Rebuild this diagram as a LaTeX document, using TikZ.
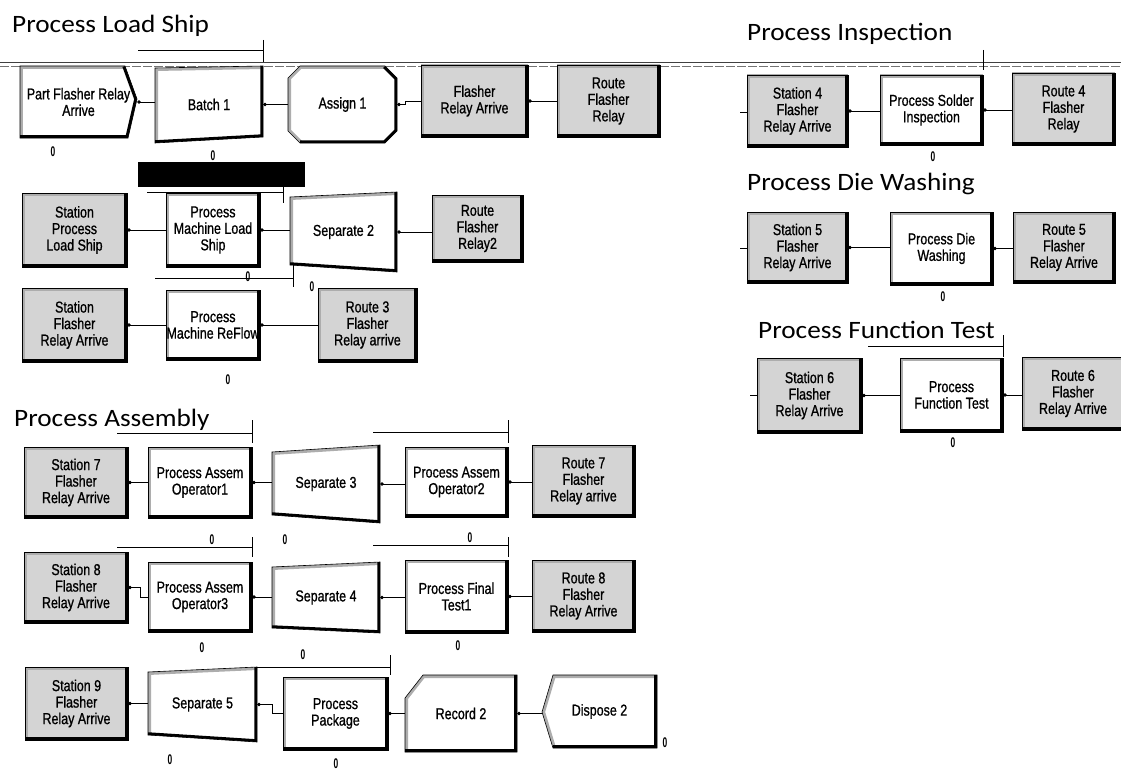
\documentclass[tikz,border=0pt]{standalone}
\usepackage{fontspec}
\setmainfont{Liberation Sans}
\newfontfamily\titlefont[FakeStretch=1.09]{Carlito}
\newfontfamily\modfont[FakeStretch=0.79, FakeBold=0.9]{Liberation Sans}
\newfontfamily\zerofont[FakeStretch=0.6]{Liberation Sans}
\usetikzlibrary{arrows.meta}

\tikzset{
  title/.style={anchor=base west, inner sep=0pt, font=\titlefont\fontsize{25}{30}\selectfont},
  modtext/.style={align=center, inner sep=0pt, font=\modfont\fontsize{15.8}{16.5}\selectfont},
  zero/.style={inner sep=0pt, font=\zerofont\bfseries\fontsize{14}{14}\selectfont},
  link/.style={line width=0.8pt, arrows={Circle[length=3.5pt]-}},
  bar/.style={line width=1pt},
  outline/.style={line width=0.6pt},
  lightedge/.style={line width=6pt, black!32},
  darkedge/.style={line width=5.5pt, black},
  stip/.style={fill=black!17},
  plain/.style={fill=white},
}

% text node of a module, sized to its box (x1,y1)-(x2,y2)
\newcommand\modnode[6]{%
  \pgfmathsetmacro\modcx{(#2+#4)/2}%
  \pgfmathsetmacro\modcy{(#3+#5)/2}%
  \pgfmathsetmacro\modw{#4-#2}%
  \pgfmathsetmacro\modh{#5-#3}%
  \node[modtext, minimum width=\modw pt, minimum height=\modh pt] (#1) at (\modcx,\modcy) {#6};%
}
% rectangular module with bevelled edges
\newcommand\rmod[7]{%
  \begin{scope}
    \clip (#3,#4) rectangle (#5,#6);
    \fill[#2] (#3,#4) rectangle (#5,#6);
    \draw[lightedge] (#3,#6) -- (#3,#4) -- (#5,#4);
    \draw[darkedge] (#5,#4) -- (#5,#6) -- (#3,#6);
  \end{scope}
  \draw[outline] (#3,#4) rectangle (#5,#6);
  \modnode{#1}{#3}{#4}{#5}{#6}{#7}%
}
% module of any outline: fill, outline, light edges, dark edges
\newcommand\shapemod[4]{%
  \begin{scope}
    \clip #2;
    \fill[#1] #2;
    \draw[lightedge] #3;
    \draw[darkedge] #4;
  \end{scope}
  \draw[outline] #2;
}

\begin{document}
\begin{tikzpicture}[x=1pt, y=-1pt]
\useasboundingbox (0,0) rectangle (1121,773);

% header rule
\draw[line width=1.4pt, black!75] (0,62.5) -- (1121,62.5);
\draw[line width=0.7pt, black!55, dash pattern=on 9pt off 2pt] (0,66) -- (1121,66);

% ---------------- Process Load Ship ----------------
\node[title] (t1) at (12,33) {Process Load Ship};

\shapemod{plain}{(20,66) -- (125,66) -- (137,99) -- (128,138) -- (20,138) -- cycle}
  {(20,138) -- (20,66) -- (125,66)}{(125,66) -- (137,99) -- (128,138) -- (20,138)}
\modnode{part}{20}{66}{137}{138}{Part Flasher Relay\\Arrive}

\shapemod{plain}{(155,68) -- (263,66) -- (263,137) -- (155,143) -- cycle}
  {(155,143) -- (155,68) -- (263,66)}{(263,66) -- (263,137) -- (155,143)}
\modnode{batch}{155}{66}{263}{143}{Batch 1}

\shapemod{plain}{(300,66) -- (385,66) -- (397,78) -- (397,131) -- (385,143) -- (300,143) -- (288,131) -- (288,78) -- cycle}
  {(300,143) -- (288,131) -- (288,78) -- (300,66) -- (385,66)}{(385,66) -- (397,78) -- (397,131) -- (385,143) -- (300,143)}
\modnode{assign}{288}{66}{397}{143}{Assign 1}

\rmod{fra}{stip}{421}{65}{528}{137}{Flasher\\Relay Arrive}
\rmod{rfr}{stip}{557}{65}{660}{137}{Route\\Flasher\\Relay}

\draw[link] (part.east) -- (part.east -| batch.west);
\draw[link] (batch.east) -- (assign.west);
\draw[link] (assign.east) -- ++(8,0) |- (fra.west);
\draw[link] (fra.east) -- (rfr.west);

\draw[bar] (138,51) -- (263,51) (263,40) -- (263,62);
\node[zero] (z1) at (53,152) {0};
\node[zero] (z2) at (213,156) {0};

\fill (138,162) rectangle (305,187);

\rmod{spls}{stip}{22}{193}{127}{267}{Station\\Process\\Load Ship}
\rmod{pmls}{plain}{166}{193}{260}{267}{Process\\Machine Load\\Ship}
\shapemod{plain}{(290,197) -- (397,192) -- (397,272) -- (290,265) -- cycle}
  {(290,265) -- (290,197) -- (397,192)}{(397,192) -- (397,272) -- (290,265)}
\modnode{sep2}{290}{192}{397}{272}{Separate 2}
\rmod{rfr2}{stip}{432}{195}{523}{262}{Route\\Flasher\\Relay2}

\draw[link] (spls.east) -- (pmls.west);
\draw[link] (pmls.east) -- (pmls.east -| sep2.west);
\draw[link] (sep2.east) -- (rfr2.west |- sep2.east);

\draw[bar] (147,192) -- (283,192) (283,187) -- (283,203);
\draw[bar] (155,278) -- (293,278) (293,263) -- (293,287);
\node[zero] (z3) at (248,277) {0};
\node[zero] (z4) at (312,287) {0};

\rmod{sfra}{stip}{22}{288}{127}{362}{Station\\Flasher\\Relay Arrive}
\rmod{pmrf}{plain}{166}{290}{260}{360}{Process\\Machine ReFlow}
\rmod{r3}{stip}{318}{288}{417}{362}{Route 3\\Flasher\\Relay arrive}

\draw[link] (sfra.east) -- (pmrf.west);
\draw[link] (pmrf.east) -- (r3.west);
\node[zero] (z5) at (228,380) {0};

% ---------------- Process Inspection ----------------
\node[title] (t2) at (747,41) {Process Inspection};
\draw[bar] (983,50) -- (983,70);
\rmod{st4}{stip}{747}{75}{848}{147}{Station 4\\Flasher\\Relay Arrive}
\rmod{psi}{plain}{880}{75}{983}{145}{Process Solder\\Inspection}
\rmod{r4}{stip}{1012}{73}{1115}{145}{Route 4\\Flasher\\Relay}
\coordinate (s4) at (740,112);
\draw[line width=0.8pt] (s4) -- (s4 -| st4.west);
\draw[link] (st4.east) -- (st4.east -| psi.west);
\draw[link] (psi.east) -- (psi.east -| r4.west);
\node[zero] (z6) at (933,157) {0};

% ---------------- Process Die Washing ----------------
\node[title] (t3) at (747,190) {Process Die Washing};
\rmod{st5}{stip}{747}{212}{848}{283}{Station 5\\Flasher\\Relay Arrive}
\rmod{pdw}{plain}{890}{212}{993}{285}{Process Die\\Washing}
\rmod{r5}{stip}{1013}{212}{1115}{283}{Route 5\\Flasher\\Relay Arrive}
\coordinate (s5) at (740,248);
\draw[line width=0.8pt] (s5) -- (s5 -| st5.west);
\draw[link] (st5.east) -- (st5.east -| pdw.west);
\draw[link] (pdw.east) -- (pdw.east -| r5.west);
\node[zero] (z7) at (943,297) {0};

% ---------------- Process Function Test ----------------
\node[title] (t4) at (758,338) {Process Function Test};
\draw[bar] (868,346) -- (1003,346) (1003,335) -- (1003,357);
\rmod{st6}{stip}{757}{358}{862}{433}{Station 6\\Flasher\\Relay Arrive}
\rmod{pft}{plain}{900}{358}{1003}{432}{Process\\Function Test}
\rmod{r6}{stip}{1022}{357}{1124}{430}{Route 6\\Flasher\\Relay Arrive}
\coordinate (s6) at (750,395);
\draw[line width=0.8pt] (s6) -- (s6 -| st6.west);
\draw[link] (st6.east) -- (st6.east -| pft.west);
\draw[link] (pft.east) -- (pft.east -| r6.west);
\node[zero] (z8) at (953,443) {0};

% ---------------- Process Assembly ----------------
\node[title] (t5) at (14,426) {Process Assembly};
\draw[bar] (117,433) -- (252,433) (252,420) -- (252,443);
\draw[bar] (373,432) -- (508,432) (508,420) -- (508,443);

\rmod{st7}{stip}{24}{447}{128}{518}{Station 7\\Flasher\\Relay Arrive}
\rmod{op1}{plain}{148}{447}{252}{518}{Process Assem\\Operator1}
\shapemod{plain}{(272,452) -- (380,445) -- (380,523) -- (272,515) -- cycle}
  {(272,515) -- (272,452) -- (380,445)}{(380,445) -- (380,523) -- (272,515)}
\modnode{sep3}{272}{445}{380}{523}{Separate 3}
\rmod{op2}{plain}{405}{447}{508}{517}{Process Assem\\Operator2}
\rmod{r7}{stip}{532}{445}{635}{517}{Route 7\\Flasher\\Relay arrive}

\draw[link] (st7.east) -- (st7.east -| op1.west);
\draw[link] (op1.east) -- (op1.east -| sep3.west);
\draw[link] (sep3.east) -- (sep3.east -| op2.west);
\draw[link] (op2.east) -- (op2.east -| r7.west);

\node[zero] (z9) at (212,540) {0};
\node[zero] (z10) at (285,540) {0};
\node[zero] (z11) at (470,538) {0};
\draw[bar] (117,547) -- (252,547) (252,537) -- (252,557);
\draw[bar] (373,545) -- (508,545) (508,537) -- (508,557);

\rmod{st8}{stip}{24}{552}{128}{623}{Station 8\\Flasher\\Relay Arrive}
\rmod{op3}{plain}{148}{562}{252}{632}{Process Assem\\Operator3}
\shapemod{plain}{(272,567) -- (380,562) -- (380,633) -- (272,628) -- cycle}
  {(272,628) -- (272,567) -- (380,562)}{(380,562) -- (380,633) -- (272,628)}
\modnode{sep4}{272}{562}{380}{633}{Separate 4}
\rmod{pft1}{plain}{405}{560}{508}{633}{Process Final\\Test1}
\rmod{r8}{stip}{532}{560}{635}{632}{Route 8\\Flasher\\Relay Arrive}

\draw[link] (st8.east) -- ++(12,0) |- (op3.west);
\draw[link] (op3.east) -- (op3.east -| sep4.west);
\draw[link] (sep4.east) -- (sep4.east -| pft1.west);
\draw[link] (pft1.east) -- (pft1.east -| r8.west);

\node[zero] (z12) at (202,648) {0};
\node[zero] (z13) at (303,655) {0};
\node[zero] (z14) at (458,646) {0};

\rmod{st9}{stip}{25}{667}{128}{740}{Station 9\\Flasher\\Relay Arrive}
\shapemod{plain}{(148,672) -- (257,667) -- (257,742) -- (148,735) -- cycle}
  {(148,735) -- (148,672) -- (257,667)}{(257,667) -- (257,742) -- (148,735)}
\modnode{sep5}{148}{667}{257}{742}{Separate 5}
\draw[bar] (257,667) -- (390,667) (390,655) -- (390,675);
\rmod{pkg}{plain}{283}{677}{388}{750}{Process\\Package}
\shapemod{plain}{(405,698) -- (423,675) -- (517,675) -- (517,752) -- (405,752) -- cycle}
  {(405,752) -- (405,698) -- (423,675) -- (517,675)}{(517,675) -- (517,752) -- (405,752)}
\modnode{rec2}{405}{675}{517}{752}{Record 2}
\shapemod{plain}{(542,712) -- (553,675) -- (657,675) -- (657,748) -- (553,748) -- cycle}
  {(553,748) -- (542,712) -- (553,675) -- (657,675)}{(657,675) -- (657,748) -- (553,748)}
\modnode{disp2}{542}{675}{657}{748}{Dispose 2}

\draw[link] (st9.east) -- (st9.east -| sep5.west);
\draw[link] (sep5.east) -- ++(15,0) |- (pkg.west);
\draw[link] (pkg.east) -- (pkg.east -| rec2.west);
\draw[link] (rec2.east) -- (rec2.east -| disp2.west);

\node[zero] (z15) at (170,760) {0};
\node[zero] (z16) at (336,764) {0};
\node[zero] (z17) at (665,743) {0};
\end{tikzpicture}
\end{document}
